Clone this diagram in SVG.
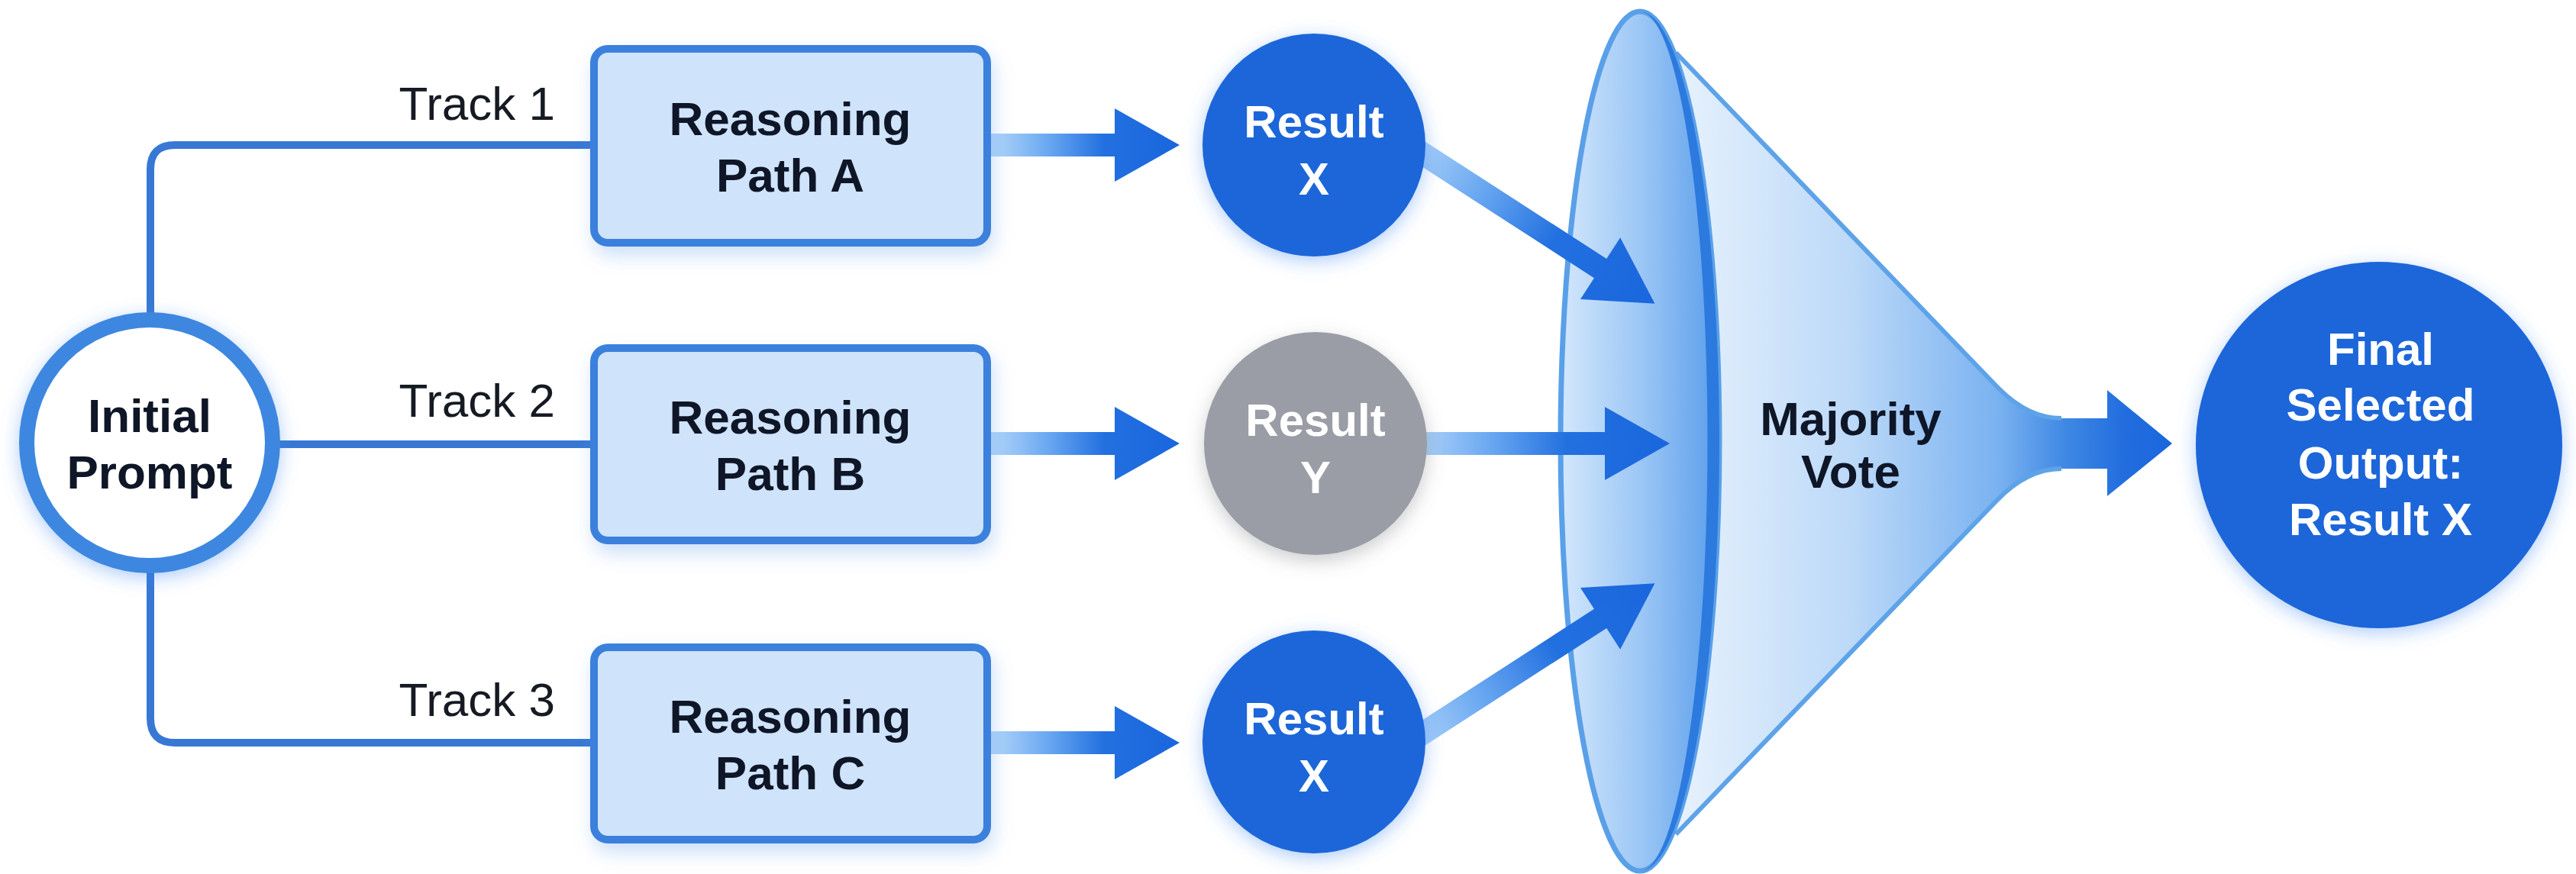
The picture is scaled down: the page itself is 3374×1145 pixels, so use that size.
<svg xmlns="http://www.w3.org/2000/svg" width="3374" height="1145" viewBox="0 0 3374 1145">
<defs>
<style>
.lbl{font-family:"Liberation Sans",Arial,sans-serif;font-size:62px;fill:#161a22}
.bt{font-family:"Liberation Sans",Arial,sans-serif;font-weight:bold;font-size:62px;fill:#0e1627;text-anchor:middle}
.wt{font-family:"Liberation Sans",Arial,sans-serif;font-weight:bold;font-size:60px;fill:#ffffff;text-anchor:middle}
.box{fill:#cfe3fa;stroke:#3a80dc;stroke-width:10}
.line{fill:none;stroke:#3878d4;stroke-width:10;stroke-linejoin:round}
.res{fill:#1a66d9}
.arrow{fill:url(#arrG)}
</style>
<linearGradient id="arrG" x1="0" y1="0" x2="1" y2="0">
<stop offset="0" stop-color="#b5d7fa"/>
<stop offset="0.3" stop-color="#6aa8f1"/>
<stop offset="0.6" stop-color="#2270e0"/>
<stop offset="1" stop-color="#1a66dd"/>
</linearGradient>
<linearGradient id="ellG" x1="0" y1="0" x2="1" y2="0">
<stop offset="0" stop-color="#d3e7fc"/>
<stop offset="0.5" stop-color="#9cc7f5"/>
<stop offset="1" stop-color="#5a9deb"/>
</linearGradient>
<linearGradient id="coneG" gradientUnits="userSpaceOnUse" x1="2200" y1="0" x2="2845" y2="0">
<stop offset="0" stop-color="#e6f1fd"/>
<stop offset="0.35" stop-color="#bcd9f8"/>
<stop offset="0.65" stop-color="#79b1f0"/>
<stop offset="0.78" stop-color="#4089e4"/>
<stop offset="0.9" stop-color="#226edf"/>
<stop offset="1" stop-color="#1a66dd"/>
</linearGradient>
<filter id="shBox" x="-20%" y="-20%" width="140%" height="150%">
<feDropShadow dx="4" dy="12" stdDeviation="12" flood-color="#4a8fe6" flood-opacity="0.28"/>
</filter>
<filter id="glow" x="-30%" y="-30%" width="160%" height="160%">
<feDropShadow dx="0" dy="6" stdDeviation="12" flood-color="#3b82f0" flood-opacity="0.4"/>
</filter>
<filter id="shGrey" x="-30%" y="-30%" width="160%" height="160%">
<feDropShadow dx="0" dy="8" stdDeviation="12" flood-color="#6b6e75" flood-opacity="0.35"/>
</filter>
</defs>
<rect width="3374" height="1145" fill="#ffffff"/>

<g id="majority-vote">
<path d="M 2195 69 L 2615 506 Q 2655 548 2700 548 L 2760 548 L 2760 511 L 2845 581 L 2760 650 L 2760 614 L 2700 614 Q 2655 614 2615 656 L 2195 1093 L 2148 578 Z" fill="url(#coneG)"/>
<path d="M 2195 69 L 2615 506 Q 2655 548 2700 548 M 2195 1093 L 2615 656 Q 2655 614 2700 614" fill="none" stroke="#5ea3e8" stroke-width="6"/>
<ellipse cx="2148" cy="578" rx="104" ry="563" fill="url(#ellG)" stroke="#5aa0e8" stroke-width="7"/>
<path d="M 2148 15 A 104 563 0 0 1 2148 1141 A 88 560 0 0 0 2148 15 Z" fill="#2c7ade"/>
<text class="bt" x="2424" y="570">Majority</text>
<text class="bt" x="2424" y="639">Vote</text>
</g>

<g id="connectors">
<path class="line" d="M 197 412 V 222 Q 197 190 229 190 H 775"/>
<path class="line" d="M 365 582 H 775"/>
<path class="line" d="M 197 749 V 941 Q 197 973 229 973 H 775"/>
<text class="lbl" x="727" y="157" text-anchor="end">Track 1</text>
<text class="lbl" x="727" y="546" text-anchor="end">Track 2</text>
<text class="lbl" x="727" y="938" text-anchor="end">Track 3</text>
<polygon class="arrow" transform="translate(1298,190)" points="0,-15 162,-15 162,-48 247,0 162,48 162,15 0,15"/>
<polygon class="arrow" transform="translate(1298,581)" points="0,-15 162,-15 162,-48 247,0 162,48 162,15 0,15"/>
<polygon class="arrow" transform="translate(1298,973)" points="0,-15 162,-15 162,-48 247,0 162,48 162,15 0,15"/>
<polygon class="arrow" transform="translate(1850,581)" points="0,-15 252,-15 252,-48 337,0 252,48 252,15 0,15"/>
<polygon class="arrow" transform="translate(1840,186) rotate(32.9)" points="0,-15 305,-15 305,-48 390,0 305,48 305,15 0,15"/>
<polygon class="arrow" transform="translate(1840,976) rotate(-32.9)" points="0,-15 305,-15 305,-48 390,0 305,48 305,15 0,15"/>
</g>

<g id="initial-prompt">
<circle cx="196" cy="580" r="161" fill="#ffffff" stroke="#3d87e0" stroke-width="20" filter="url(#glow)"/>
<text class="bt" x="196" y="566" font-size="60">Initial</text>
<text class="bt" x="196" y="640" font-size="60">Prompt</text>
</g>

<g id="path-a">
<rect class="box" x="778" y="64" width="515" height="254" rx="18" filter="url(#shBox)"/>
<text class="bt" x="1035" y="177">Reasoning</text>
<text class="bt" x="1035" y="251">Path A</text>
</g>
<g id="path-b">
<rect class="box" x="778" y="456" width="515" height="252" rx="18" filter="url(#shBox)"/>
<text class="bt" x="1035" y="568">Reasoning</text>
<text class="bt" x="1035" y="642">Path B</text>
</g>
<g id="path-c">
<rect class="box" x="778" y="848" width="515" height="252" rx="18" filter="url(#shBox)"/>
<text class="bt" x="1035" y="960">Reasoning</text>
<text class="bt" x="1035" y="1034">Path C</text>
</g>

<g id="result-a">
<circle class="res" cx="1721" cy="190" r="146" filter="url(#glow)"/>
<text class="wt" x="1721" y="180">Result</text>
<text class="wt" x="1721" y="255">X</text>
</g>
<g id="result-b">
<circle cx="1723" cy="581" r="146" fill="#9a9da5" filter="url(#shGrey)"/>
<text class="wt" x="1723" y="571">Result</text>
<text class="wt" x="1723" y="646">Y</text>
</g>
<g id="result-c">
<circle class="res" cx="1721" cy="972" r="146" filter="url(#glow)"/>
<text class="wt" x="1721" y="962">Result</text>
<text class="wt" x="1721" y="1037">X</text>
</g>

<g id="final-output">
<circle class="res" cx="3116" cy="583" r="240" filter="url(#glow)"/>
<text class="wt" x="3118" y="478" font-size="62">Final</text>
<text class="wt" x="3118" y="551" font-size="62">Selected</text>
<text class="wt" x="3118" y="627" font-size="62">Output:</text>
<text class="wt" x="3118" y="701" font-size="62">Result X</text>
</g>
</svg>
